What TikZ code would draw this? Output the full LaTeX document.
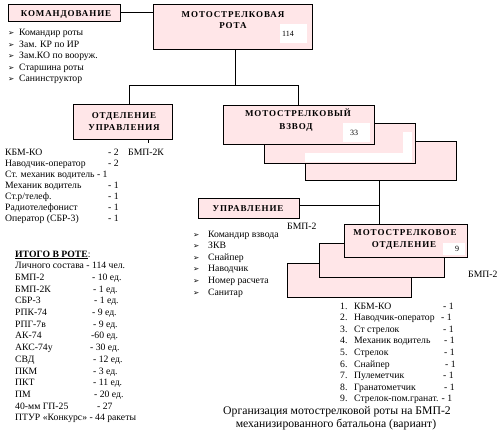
\documentclass[tikz,border=0pt]{standalone}
\usepackage{fontspec}
\setmainfont{Liberation Serif}
\newfontfamily\dejavu{DejaVu Sans}
\newfontfamily\ttlfont[LetterSpace=10]{Liberation Serif}
\definecolor{boxpink}{RGB}{255,230,232}
\newcommand{\blt}{{\dejavu\fontsize{7.5}{8}\selectfont ➢}}
\newcommand{\rowL}[2]{\makebox[#1][l]{#2}}
\newcommand{\col}[1]{\begin{tabular}[t]{@{}l@{}}#1\end{tabular}}
\tikzset{
  box/.style={draw=black, fill=boxpink, line width=0.8pt, inner sep=0pt, anchor=north west},
  wbox/.style={fill=white, inner sep=0pt, anchor=north west},
  ttl/.style={font=\ttlfont\bfseries\fontsize{9}{12}\selectfont, inner sep=0pt, anchor=base},
  num/.style={font=\fontsize{8}{10}\selectfont, inner sep=0pt, anchor=base west},
  lst/.style={font=\fontsize{9.7}{11.5}\selectfont, inner sep=0pt, anchor=base west},
  wire/.style={line width=0.8pt},
}
\begin{document}
\begin{tikzpicture}[x=1pt,y=-1pt]
\useasboundingbox (0,0) rectangle (498,436);
% boxes
\node[box, minimum width=112pt, minimum height=17pt] (komand) at (8,4) {};
\node[box, minimum width=159pt, minimum height=45pt] (rota) at (153,4) {};
\node[wbox, minimum width=27pt, minimum height=19pt] (w114) at (280,24) {};
\node[box, minimum width=99pt, minimum height=35pt] (otd) at (73,104) {};
\node[box, minimum width=151pt, minimum height=39pt] (vz3) at (305,141) {};
\node[box, minimum width=151pt, minimum height=40pt] (vz2) at (264,123) {};
\fill[white] (305,153) rectangle (412,162);
\fill[white] (403,132) rectangle (412,158);
\node[box, minimum width=151pt, minimum height=39pt] (vz1) at (223,105) {};
\node[wbox, minimum width=27pt, minimum height=19pt] (w33) at (343,123) {};
\node[box, minimum width=101pt, minimum height=20pt] (upr) at (198,198) {};
\node[box, minimum width=124pt, minimum height=34pt] (ot3) at (287,263) {};
\node[box, minimum width=125pt, minimum height=34pt] (ot2) at (319,243) {};
\node[box, minimum width=123pt, minimum height=33pt] (ot1) at (344,224) {};
\node[wbox, minimum width=22pt, minimum height=12pt] (w9) at (443,243) {};
% titles
\node[ttl] (tkom) at (66,17) {КОМАНДОВАНИЕ};
\node[ttl] (trota1) at (233,18) {МОТОСТРЕЛКОВАЯ};
\node[ttl] (trota2) at (233,29) {РОТА};
\node[num] (n114) at (282,37) {114};
\node[ttl] (totd1) at (124,118) {ОТДЕЛЕНИЕ};
\node[ttl] (totd2) at (124,130) {УПРАВЛЕНИЯ};
\node[ttl] (tvz1) at (298,117) {МОТОСТРЕЛКОВЫЙ};
\node[ttl] (tvz2) at (296,129) {ВЗВОД};
\node[num] (n33) at (350,135) {33};
\node[ttl] (tupr) at (248,211) {УПРАВЛЕНИЕ};
\node[ttl] (tot1) at (405,235) {МОТОСТРЕЛКОВОЕ};
\node[ttl] (tot2) at (404,247) {ОТДЕЛЕНИЕ};
\node[num] (n9) at (455,251) {9};
% connectors
\coordinate (hub) at (235,85);
\coordinate (hL) at (129,85);
\coordinate (hR) at (298,85);
\draw[wire] (komand.east) -- (komand.east -| rota.west);
\draw[wire] (hub |- rota.south) -- (hub);
\draw[wire] (hL |- otd.north) -- (hL) -- (hR) -- (hR |- vz1.north);
\coordinate (tk) at (148,143);
\draw[wire] (tk |- otd.south) -- (tk);
\coordinate (vj) at (379,205);
\draw[wire] (vj |- vz3.south) -- (vj |- ot1.north);
\draw[wire] (vj -| upr.east) -- (vj);
% lists
\node[lst] (bkom) at (8,36) {\col{\blt\\\blt\\\blt\\\blt\\\blt}};
\node[lst] (lkom) at (19,36) {\col{Командир роты\\Зам. КР по ИР\\Зам.КО по вооруж.\\Старшина роты\\Санинструктор}};
\node[lst, font=\fontsize{9.7}{11}\selectfont] (lotd) at (5,155) {\col{\rowL{103pt}{КБМ-КО}- 2\\\rowL{103pt}{Наводчик-оператор}- 2\\Ст. механик водитель - 1\\\rowL{103pt}{Механик водитель}- 1\\\rowL{103pt}{Ст.р/телеф.}- 1\\\rowL{103pt}{Радиотелефонист}- 1\\\rowL{103pt}{Оператор (СБР-3)}- 1}};
\node[lst] (bmp2k) at (128,155) {БМП-2К};
\node[lst, font=\fontsize{9.7}{11.7}\selectfont] (itogo) at (15,257) {\col{\textbf{\underline{ИТОГО В РОТЕ}}:\\Личного состава - 114 чел.\\\rowL{77pt}{БМП-2}- 10 ед.\\\rowL{78pt}{БМП-2К}- 1 ед.\\\rowL{79pt}{СБР-3}- 1 ед.\\\rowL{77pt}{РПК-74}- 9 ед.\\\rowL{78pt}{РПГ-7в}- 9 ед.\\\rowL{76pt}{АК-74}-60 ед.\\\rowL{75pt}{АКС-74у}- 30 ед.\\\rowL{78pt}{СВД}- 12 ед.\\\rowL{78pt}{ПКМ}- 3 ед.\\\rowL{78pt}{ПКТ}- 11 ед.\\\rowL{79pt}{ПМ}- 20 ед.\\\rowL{82pt}{40-мм ГП-25}- 27\\ПТУР «Конкурс» - 44 ракеты}};
\node[lst, font=\fontsize{9.7}{11.6}\selectfont] (bupr) at (193,237) {\col{\blt\\\blt\\\blt\\\blt\\\blt\\\blt}};
\node[lst, font=\fontsize{9.7}{11.6}\selectfont] (lupr) at (208,237) {\col{Командир взвода\\ЗКВ\\Снайпер\\Наводчик\\Номер расчета\\Санитар}};
\node[lst] (bmp2a) at (287,229) {БМП-2};
\node[lst] (bmp2b) at (468,277) {БМП-2};
\node[lst, font=\fontsize{9.7}{11.6}\selectfont] (nums) at (340,309) {\col{1.\\2.\\3.\\4.\\5.\\6.\\7.\\8.\\9.}};
\node[lst, font=\fontsize{9.7}{11.6}\selectfont] (lot) at (354,309) {\col{\rowL{89pt}{КБМ-КО}- 1\\\rowL{87pt}{Наводчик-оператор}- 1\\\rowL{89pt}{Ст стрелок}- 1\\\rowL{90pt}{Механик водитель}- 1\\\rowL{90pt}{Стрелок}- 1\\\rowL{91pt}{Снайпер}- 1\\\rowL{89pt}{Пулеметчик}- 1\\\rowL{90pt}{Гранатометчик}- 1\\Стрелок-пом.гранат. - 1}};
\node[font=\fontsize{11.7}{13}\selectfont, inner sep=0pt, anchor=base] (cap1) at (337,414) {Организация мотострелковой роты на БМП-2};
\node[font=\fontsize{11.7}{13}\selectfont, inner sep=0pt, anchor=base] (cap2) at (336,427) {механизированного батальона (вариант)};
\end{tikzpicture}
\end{document}
